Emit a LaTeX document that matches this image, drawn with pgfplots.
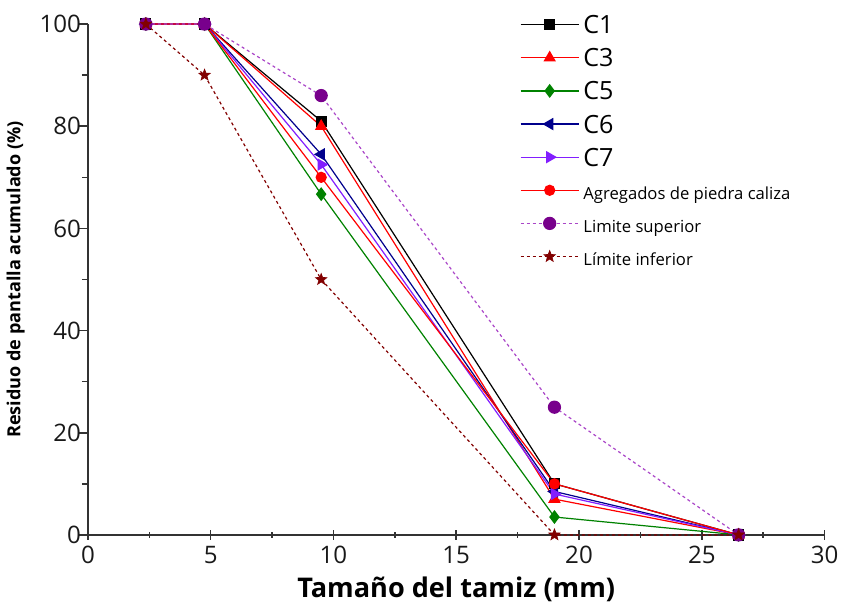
\documentclass[border=0pt]{standalone}
\usepackage{pgfplots}
\pgfplotsset{compat=1.18}
\usepackage{fontspec}
\setmainfont{Open Sans}
\definecolor{cNavy}{RGB}{0,0,140}
\definecolor{cGreen}{RGB}{0,130,0}
\definecolor{cViolet}{RGB}{130,30,255}
\definecolor{cPurple}{RGB}{120,0,140}
\definecolor{cPurpleL}{RGB}{170,70,200}
\definecolor{cDark}{RGB}{130,0,0}
% filled five-pointed star
\pgfdeclareplotmark{fstar}{%
  \pgfpathmoveto{\pgfpointpolar{90}{\pgfplotmarksize}}%
  \pgfpathlineto{\pgfpointpolar{126}{0.42\pgfplotmarksize}}%
  \pgfpathlineto{\pgfpointpolar{162}{\pgfplotmarksize}}%
  \pgfpathlineto{\pgfpointpolar{198}{0.42\pgfplotmarksize}}%
  \pgfpathlineto{\pgfpointpolar{234}{\pgfplotmarksize}}%
  \pgfpathlineto{\pgfpointpolar{270}{0.42\pgfplotmarksize}}%
  \pgfpathlineto{\pgfpointpolar{306}{\pgfplotmarksize}}%
  \pgfpathlineto{\pgfpointpolar{342}{0.42\pgfplotmarksize}}%
  \pgfpathlineto{\pgfpointpolar{18}{\pgfplotmarksize}}%
  \pgfpathlineto{\pgfpointpolar{54}{0.42\pgfplotmarksize}}%
  \pgfpathclose
  \pgfusepathqfillstroke}
\begin{document}
\begin{tikzpicture}
\begin{axis}[
    scale only axis,
    width=367pt, height=254.5pt,
    xmin=0, xmax=30, ymin=0, ymax=100,
    axis x line*=bottom, axis y line*=left,
    axis line style={-, thick, black!80},
    xtick={0,5,...,30}, ytick={0,20,...,100},
    minor xtick={2.5,7.5,...,27.5}, minor ytick={10,30,...,90},
    xtick style={black!80, thick}, ytick style={black!80, thick},
    x tick style={/pgfplots/tick align=center},
    y tick style={/pgfplots/tick align=outside},
    major tick length=5pt, minor tick length=3pt,
    tick label style={font=\fontsize{12}{13}\selectfont, text=black!90},
    xticklabel style={yshift=-2pt},
    /pgf/number format/assume math mode=true,
    xlabel={\textbf{Tamaño del tamiz (mm)}},
    ylabel={\textbf{Residuo de pantalla acumulado (\%)}},
    xlabel style={font=\fontsize{13.5}{15}\selectfont,
        at={(axis description cs:0.5,0)}, anchor=center, yshift=-27pt},
    ylabel style={font=\fontsize{9}{10}\selectfont,
        at={(axis description cs:-0.098,0.5)}, anchor=center},
    clip=false,
    legend style={at={(0.586,1.032)}, anchor=north west, draw=none, fill=none,
        row sep=0pt, font=\fontsize{12.5}{14}\selectfont, inner sep=0pt,
        nodes={minimum height=16.5pt, text height=9pt, text depth=0pt},
        cells={anchor=west}},
    legend image code/.code={
        \draw[mark repeat=2, mark phase=2, #1] plot coordinates {(0pt,0pt) (14.5pt,0pt) (29pt,0pt)};
    },
    every axis plot/.append style={mark size=2.5pt, line width=0.6pt},
]
\addplot[black, mark=square*] coordinates {
    (2.36,100) (4.75,100) (9.5,81) (19,10) (26.5,0)
};
\addlegendentry{C1}
\addplot[red, mark=triangle*, mark size=3pt] coordinates {
    (2.36,100) (4.75,100) (9.5,80) (19,7) (26.5,0)
};
\addlegendentry{C3}
\addplot[cGreen, mark=diamond*, mark size=3pt] coordinates {
    (2.36,100) (4.75,100) (9.5,66.7) (19,3.5) (26.5,0)
};
\addlegendentry{C5}
\addplot[cNavy, mark=triangle*, mark size=3pt, mark options={rotate=90}] coordinates {
    (2.36,100) (4.75,100) (9.5,74.5) (19,8.5) (26.5,0)
};
\addlegendentry{C6}
\addplot[cViolet, mark=triangle*, mark size=3pt, mark options={rotate=-90}] coordinates {
    (2.36,100) (4.75,100) (9.5,72.5) (19,8) (26.5,0)
};
\addlegendentry{C7}
\addplot[red, mark=*] coordinates {
    (2.36,100) (4.75,100) (9.5,70) (19,10) (26.5,0)
};
\addlegendentry{\fontsize{8.3}{9}\selectfont Agregados de piedra caliza}
\addplot[cPurpleL, dash pattern=on 1.5pt off 1.5pt, mark=*, mark size=3pt,
    mark options={solid, fill=cPurple, draw=cPurple}] coordinates {
    (2.36,100) (4.75,100) (9.5,86) (19,25) (26.5,0)
};
\addlegendentry{\fontsize{8.3}{9}\selectfont Limite superior}
\addplot[cDark, dash pattern=on 1.5pt off 1.5pt, mark=fstar, mark size=3pt,
    mark options={solid, fill=cDark, line width=0.3pt}] coordinates {
    (2.36,100) (4.75,90) (9.5,50) (19,0) (26.5,0)
};
\addlegendentry{\fontsize{8.3}{9}\selectfont Límite inferior}
% keep the white margin above and below as in the reference
\path (rel axis cs:0,1) ++(0,12pt) coordinate (topm);
\path (rel axis cs:0,0) ++(0,-37.5pt) coordinate (botm);
\end{axis}
\end{tikzpicture}
\end{document}
